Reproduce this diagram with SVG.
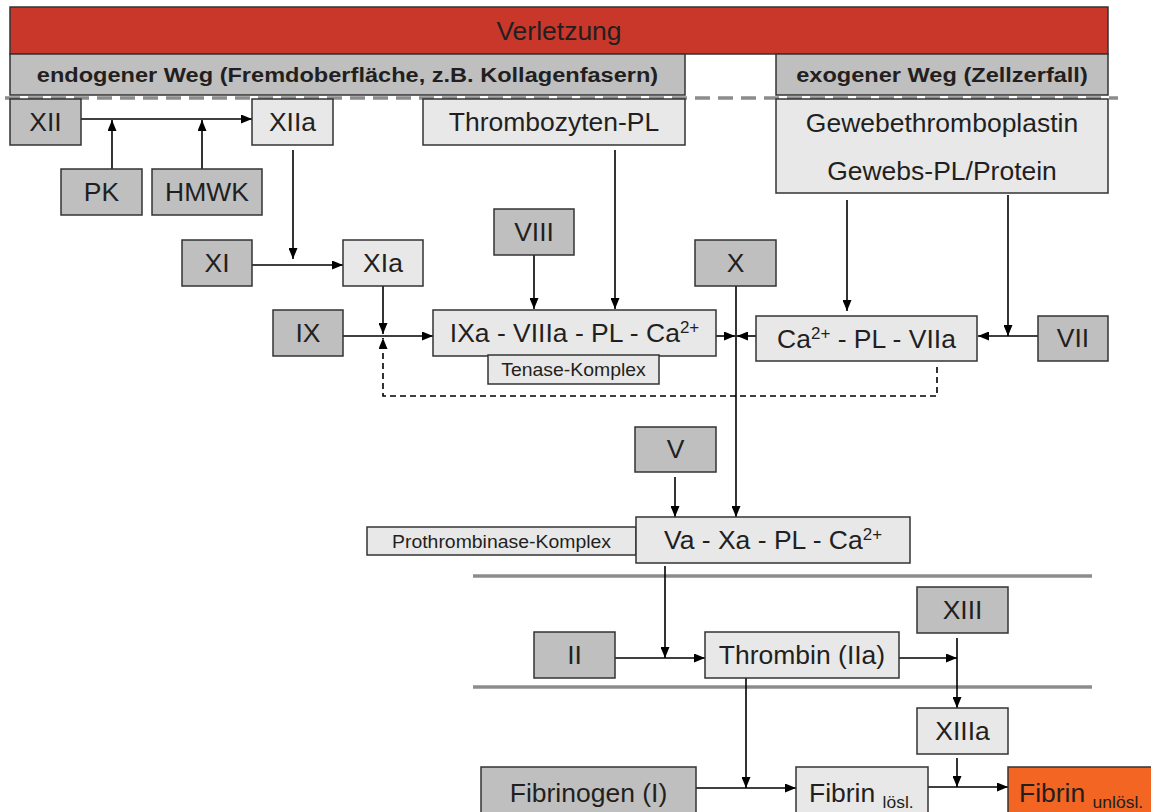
<svg xmlns="http://www.w3.org/2000/svg" width="1151" height="812" viewBox="0 0 1151 812">
<defs>
<style>
.dk{fill:#bfbfbf;stroke:#333;stroke-width:1.5}
.lt{fill:#e8e8e8;stroke:#333;stroke-width:1.5}
.t{font-family:"Liberation Sans",Arial,sans-serif;font-size:25px;fill:#231f20;text-anchor:middle}
.b{font-family:"Liberation Sans",Arial,sans-serif;font-size:20.5px;font-weight:bold;fill:#231f20;text-anchor:middle}
.s{font-family:"Liberation Sans",Arial,sans-serif;font-size:18.5px;fill:#231f20;text-anchor:middle}
.ln{fill:none;stroke:#000;stroke-width:1.6}
.ar{marker-end:url(#a)}
.gl{stroke:#8c8c8c;stroke-width:3.5}
</style>
<marker id="a" markerUnits="userSpaceOnUse" markerWidth="11" markerHeight="9" refX="11" refY="4.5" orient="auto"><path d="M0,0 L11,4.5 L0,9 z" fill="#000"/></marker>
</defs>
<rect width="1151" height="812" fill="#fff"/>

<g id="verletzung"><rect x="10" y="7" width="1098" height="47" fill="#c8372a" stroke="#333" stroke-width="1.5"/><text class="t" transform="translate(559,40) scale(1.06,1)">Verletzung</text></g>
<g id="endogen"><rect class="dk" x="10" y="54" width="675" height="41"/><text class="b" transform="translate(347.5,82) scale(1.15,1)">endogener Weg (Fremdoberfläche, z.B. Kollagenfasern)</text></g>
<g id="exogen"><rect class="dk" x="776" y="54" width="332" height="41"/><text class="b" transform="translate(942,82) scale(1.15,1)">exogener Weg (Zellzerfall)</text></g>

<line class="gl" x1="5" y1="98" x2="1118" y2="98" stroke-dasharray="15 8"/>
<line class="gl" x1="473" y1="576" x2="1092" y2="576"/>
<line class="gl" x1="473" y1="687" x2="1092" y2="687"/>

<g id="connectors">
<line class="ln ar" x1="81" y1="119" x2="252" y2="119"/>
<line class="ln ar" x1="112" y1="169" x2="112" y2="120"/>
<line class="ln ar" x1="202" y1="169" x2="202" y2="120"/>
<line class="ln ar" x1="293" y1="150" x2="293" y2="259"/>
<line class="ln ar" x1="252" y1="265" x2="343" y2="265"/>
<line class="ln ar" x1="383" y1="286" x2="383" y2="334"/>
<line class="ln ar" x1="343" y1="336" x2="433" y2="336"/>
<path class="ln ar" d="M937,367 V396 H383 V338" stroke-dasharray="6 4"/>
<line class="ln ar" x1="534" y1="255" x2="534" y2="309"/>
<line class="ln ar" x1="615" y1="150" x2="615" y2="309"/>
<line class="ln ar" x1="716" y1="336" x2="735" y2="336"/>
<line class="ln ar" x1="756" y1="336" x2="737" y2="336"/>
<line class="ln ar" x1="736" y1="286" x2="736" y2="517"/>
<line class="ln ar" x1="847" y1="200" x2="847" y2="311"/>
<line class="ln ar" x1="1008" y1="195" x2="1008" y2="336"/>
<line class="ln ar" x1="1038" y1="336" x2="978" y2="336"/>
<line class="ln ar" x1="675" y1="477" x2="675" y2="517"/>
<line class="ln ar" x1="665" y1="566" x2="665" y2="658"/>
<line class="ln ar" x1="615" y1="658" x2="705" y2="658"/>
<line class="ln ar" x1="746" y1="678" x2="746" y2="788"/>
<line class="ln ar" x1="696" y1="788" x2="796" y2="788"/>
<line class="ln ar" x1="899" y1="658" x2="957" y2="658"/>
<line class="ln ar" x1="957" y1="638" x2="957" y2="708"/>
<line class="ln ar" x1="957" y1="758" x2="957" y2="787"/>
<line class="ln ar" x1="928" y1="787" x2="1008" y2="787"/>
</g>

<g id="XII"><rect class="dk" x="10" y="99" width="71" height="46"/><text class="t" transform="translate(45.5,131) scale(1.06,1)">XII</text></g>
<g id="XIIa"><rect class="lt" x="252" y="99" width="81" height="46"/><text class="t" transform="translate(292.5,131) scale(1.06,1)">XIIa</text></g>
<g id="thrombozyten"><rect class="lt" x="423" y="99" width="262" height="46"/><text class="t" transform="translate(554,131) scale(1.06,1)">Thrombozyten-PL</text></g>
<g id="gewebe"><rect class="lt" x="776" y="99" width="332" height="94"/><text class="t" transform="translate(942,132) scale(1.06,1)">Gewebethromboplastin</text><text class="t" transform="translate(942,180) scale(1.06,1)">Gewebs-PL/Protein</text></g>
<g id="PK"><rect class="dk" x="61" y="169" width="81" height="46"/><text class="t" transform="translate(101.5,201) scale(1.06,1)">PK</text></g>
<g id="HMWK"><rect class="dk" x="152" y="169" width="110" height="46"/><text class="t" transform="translate(207,201) scale(1.06,1)">HMWK</text></g>
<g id="VIII"><rect class="dk" x="494" y="209" width="80" height="46"/><text class="t" transform="translate(534,241) scale(1.06,1)">VIII</text></g>
<g id="X"><rect class="dk" x="695" y="240" width="81" height="46"/><text class="t" transform="translate(735.5,272) scale(1.06,1)">X</text></g>
<g id="XI"><rect class="dk" x="182" y="240" width="70" height="46"/><text class="t" transform="translate(217,272) scale(1.06,1)">XI</text></g>
<g id="XIa"><rect class="lt" x="343" y="240" width="80" height="46"/><text class="t" transform="translate(383,272) scale(1.06,1)">XIa</text></g>
<g id="IX"><rect class="dk" x="273" y="310" width="70" height="46"/><text class="t" transform="translate(308,342) scale(1.06,1)">IX</text></g>
<g id="tenase-complex"><rect class="lt" x="433" y="310" width="283" height="46"/><text class="t" transform="translate(574.5,342) scale(1.06,1)">IXa - VIIIa - PL - Ca<tspan font-size="16" dy="-9">2+</tspan></text></g>
<g id="tenase-label"><rect class="lt" x="488" y="355" width="171" height="29"/><text class="s" transform="translate(573.5,376) scale(1.05,1)">Tenase-Komplex</text></g>
<g id="VIIa-complex"><rect class="lt" x="756" y="316" width="221" height="45"/><text class="t" transform="translate(866.5,348) scale(1.06,1)">Ca<tspan font-size="16" dy="-9">2+</tspan><tspan dy="9"> - PL - VIIa</tspan></text></g>
<g id="VII"><rect class="dk" x="1038" y="316" width="70" height="45"/><text class="t" transform="translate(1073,347) scale(1.06,1)">VII</text></g>
<g id="V"><rect class="dk" x="635" y="427" width="81" height="45"/><text class="t" transform="translate(675.5,458) scale(1.06,1)">V</text></g>
<g id="prothrombinase-label"><rect class="lt" x="367" y="527" width="269" height="28"/><text class="s" transform="translate(501.5,548) scale(1.05,1)">Prothrombinase-Komplex</text></g>
<g id="prothrombinase-complex"><rect class="lt" x="636" y="517" width="274" height="46"/><text class="t" transform="translate(773,549) scale(1.06,1)">Va - Xa - PL - Ca<tspan font-size="16" dy="-9">2+</tspan></text></g>
<g id="II"><rect class="dk" x="534" y="632" width="81" height="46"/><text class="t" transform="translate(574.5,664) scale(1.06,1)">II</text></g>
<g id="thrombin"><rect class="lt" x="705" y="632" width="194" height="46"/><text class="t" transform="translate(802,664) scale(1.06,1)">Thrombin (IIa)</text></g>
<g id="XIII"><rect class="dk" x="917" y="587" width="91" height="46"/><text class="t" transform="translate(962.5,619) scale(1.06,1)">XIII</text></g>
<g id="XIIIa"><rect class="lt" x="917" y="708" width="91" height="46"/><text class="t" transform="translate(962.5,740) scale(1.06,1)">XIIIa</text></g>
<g id="fibrinogen"><rect class="dk" x="481" y="767" width="215" height="60"/><text class="t" transform="translate(588.5,802) scale(1.06,1)">Fibrinogen (I)</text></g>
<g id="fibrin-loesl"><rect class="lt" x="796" y="767" width="132" height="60"/><text class="t" style="text-anchor:start" transform="translate(809,802) scale(1.06,1)">Fibrin <tspan font-size="16.5" dy="6">lösl.</tspan></text></g>
<g id="fibrin-unloesl"><rect x="1008" y="767" width="150" height="60" fill="#f26522" stroke="#333" stroke-width="1.5"/><text class="t" style="text-anchor:start" transform="translate(1019,802) scale(1.06,1)">Fibrin <tspan font-size="16.5" dy="6">unlösl.</tspan></text></g>
</svg>
